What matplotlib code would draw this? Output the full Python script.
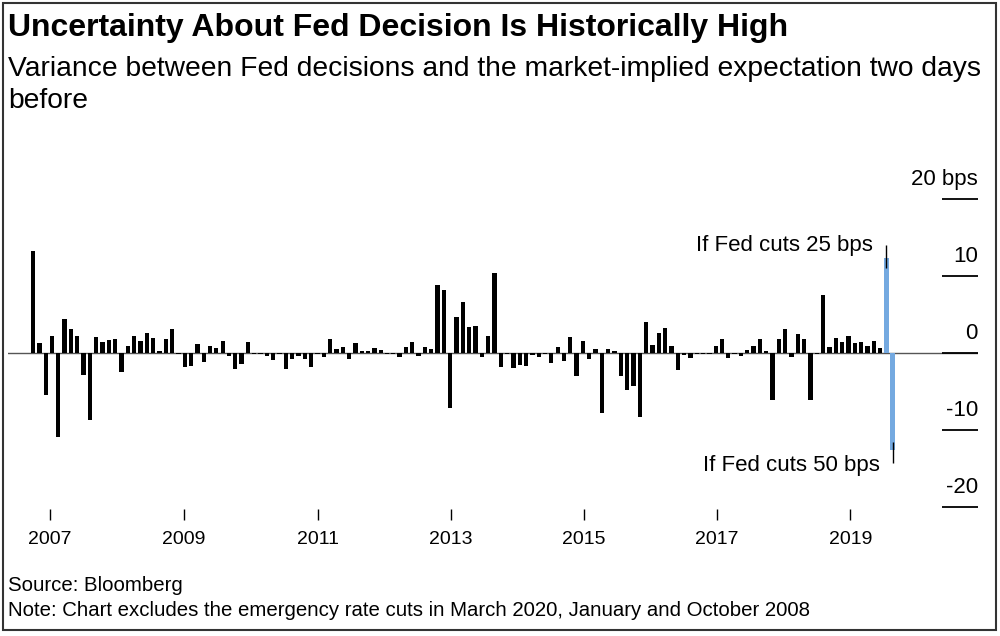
import matplotlib
matplotlib.use('Agg')
from matplotlib import pyplot as plt
from matplotlib import transforms
from matplotlib.patches import Rectangle
import numpy as np

plt.rcParams['font.family'] = ['Liberation Sans', 'DejaVu Sans']

# variance (bps) for each Fed decision, oldest first
variance = [13.3, 1.3, -5.4, 2.2, -10.9, 4.5, 3.2, 2.3, -2.8, -8.7,
            2.1, 1.4, 1.7, 1.9, -2.4, 0.9, 2.3, 1.6, 2.6, 2.0,
            0.3, 1.9, 3.2, -0.15, -1.8, -1.6, 1.2, -1.1, 0.9, 0.7,
            1.6, -0.3, -2.1, -1.4, 1.5, -0.15, -0.15, -0.4, -0.9, -0.15,
            -2.0, -0.7, -0.35, -0.7, -1.8, -0.15, -0.5, 1.8, 0.5, 0.8,
            -0.8, 1.3, 0.3, 0.3, 0.7, 0.4, -0.15, -0.15, -0.5, 0.8,
            1.4, -0.35, 0.8, 0.6, 8.9, 8.2, -7.1, 4.7, 6.7, 3.4,
            3.6, -0.5, 2.2, 10.4, -1.8, -0.15, -1.9, -1.5, -1.7, -0.2,
            -0.5, -0.15, -1.2, 0.8, -1.0, 2.1, -2.9, 1.6, -0.8, 0.6,
            -7.8, 0.6, 0.35, -2.9, -4.8, -4.3, -8.3, 4.1, 1.1, 2.6,
            3.3, 1.0, -2.2, -0.25, -0.55, -0.15, -0.15, -0.15, 0.9, 1.9,
            -0.65, -0.15, -0.35, 0.45, 1.0, 1.9, 0.35, -6.1, 1.8, 3.1,
            -0.5, 2.5, 1.9, -6.1, -0.15, 7.6, 0.8, 2.0, 1.4, 2.2,
            1.3, 1.4, 1.0, 1.6, 0.65]

# September 2019 scenarios
scenario_labels = ['If Fed cuts 25 bps', 'If Fed cuts 50 bps']
scenario_values = [12.4, -12.6]
scenario_range = [(11.1, 14.1), (-11.5, -14.25)]
scenario_label_pos = [(132.9, 13.3), (134.0, -15.3)]

year_labels = ['2007', '2009', '2011', '2013', '2015', '2017', '2019']
year_pos = [2.69, 23.9, 45.1, 66.1, 87.2, 108.2, 129.3]

ytick_vals = [20, 10, 0, -10, -20]
ytick_labels = ['20 bps', '10', '0', '-10', '-20']

BLUE = '#74a9e0'

fig = plt.figure(figsize=(10, 6.36), dpi=100)
ax = fig.add_axes([0.008, 0.1824, 0.970, 0.5503])

x = np.arange(len(variance))
ax.bar(x, variance, width=0.68, color='black', zorder=3)
xs = len(variance) + np.arange(len(scenario_values))
ax.bar(xs, scenario_values, width=0.72, color=BLUE, zorder=3)
for xi, (lo, hi) in zip(xs, scenario_range):
    ax.vlines(xi, lo, hi, color='black', lw=1, zorder=4)

ax.axhline(0, color='#555555', lw=1, zorder=2)

ax.set_xlim(-3.96, 149.5)
ax.set_ylim(-21.65, 23.8)

for s in ax.spines.values():
    s.set_visible(False)
ax.set_yticks([])
ax.set_xticks(year_pos)
ax.set_xticklabels(year_labels, fontsize=14)
ax.tick_params(axis='x', direction='in', length=8, width=1, color='black', pad=8)

ytrans = ax.get_yaxis_transform()
ax.hlines(ytick_vals, 0.963, 1.0, transform=ytrans, color='black', lw=1.3, zorder=5)
lab_trans = transforms.offset_copy(ytrans, fig=fig, y=14, units='dots')
for v, lab in zip(ytick_vals, ytick_labels):
    ax.text(1.0, v, lab, transform=lab_trans, ha='right', va='baseline', fontsize=16)

# scenario labels
for (lx, ly), lab in zip(scenario_label_pos, scenario_labels):
    ax.text(lx, ly, lab, ha='right', va='baseline', fontsize=16)

H = 636
fig.text(0.008, 1 - 36 / H, 'Uncertainty About Fed Decision Is Historically High',
         fontsize=23, fontweight='bold', va='baseline')
fig.text(0.008, 1 - 76 / H,
         'Variance between Fed decisions and the market-implied expectation two days',
         fontsize=20.3, va='baseline')
fig.text(0.008, 1 - 108 / H, 'before', fontsize=20.3, va='baseline')
fig.text(0.008, 1 - 591 / H, 'Source: Bloomberg', fontsize=14.7, va='baseline')
fig.text(0.008, 1 - 616 / H,
         'Note: Chart excludes the emergency rate cuts in March 2020, January and October 2008',
         fontsize=14.7, va='baseline')

fig.patches.append(Rectangle((3 / 1000, 6 / H), 993 / 1000, 627 / H,
                             transform=fig.transFigure, fill=False,
                             edgecolor='#333333', lw=1.5))

plt.savefig('out.png')
